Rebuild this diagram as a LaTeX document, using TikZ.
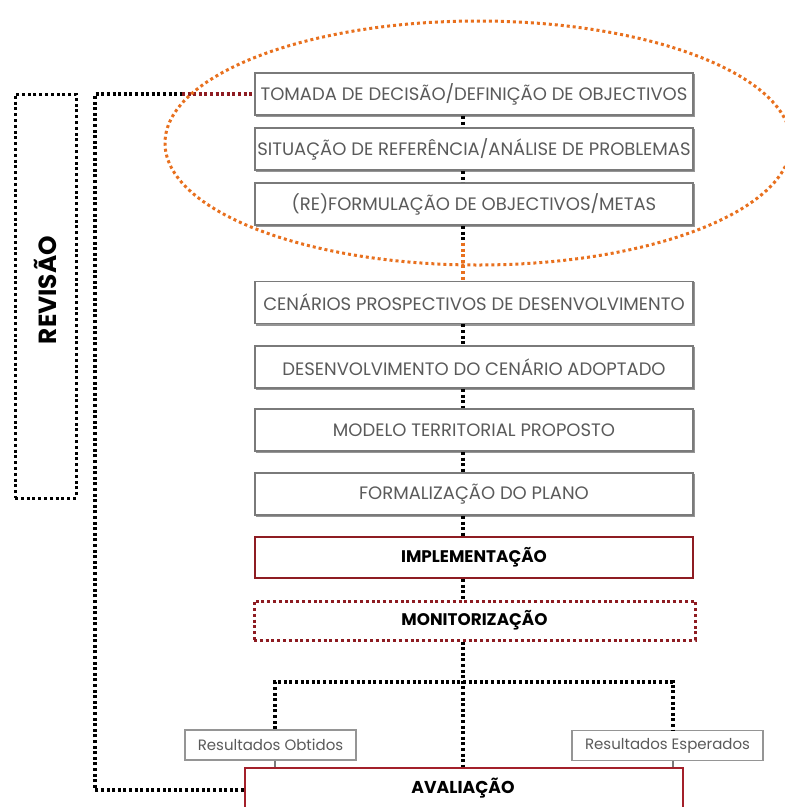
\documentclass[tikz,border=0pt]{standalone}
\usepackage{fontspec}
\setmainfont{Poppins}
\definecolor{boxgray}{HTML}{7A7A7A}
\definecolor{txtgray}{HTML}{5A5A5A}
\definecolor{maroon}{HTML}{8E1C22}
\definecolor{redline}{HTML}{A3202A}
\definecolor{orangedot}{HTML}{E8701E}
\begin{document}
\begin{tikzpicture}[x=1pt,y=-1pt,
  stepbox/.style={draw=boxgray, line width=1.8pt, fill=white,
    minimum width=438pt, minimum height=42pt, inner sep=0pt,
    font=\fontsize{18}{20}\selectfont, text=txtgray,
    preaction={draw=boxgray!80, line width=1.8pt,
      transform canvas={xshift=1.5pt,yshift=-1.5pt}}},
  keybox/.style={draw=maroon, line width=2.2pt, fill=white,
    minimum width=438pt, minimum height=41pt, inner sep=0pt,
    font=\bfseries\fontsize{16.8}{19}\selectfont, text=black},
  resbox/.style={draw=boxgray!80, line width=1.6pt, fill=white,
    minimum height=30pt, inner sep=0pt,
    font=\fontsize{15}{17}\selectfont, text=txtgray},
  conn/.style={line width=3.2pt, dash pattern=on 3pt off 2.6pt, black},
  dotframe/.style={line width=3pt, dash pattern=on 3pt off 2.8pt},
  thinconn/.style={line width=1.6pt, boxgray},
]
\useasboundingbox (0,0) rectangle (785,807);

% planning sequence
\node[stepbox] (b1) at (474,94)  {TOMADA DE DECISÃO/DEFINIÇÃO DE OBJECTIVOS};
\node[stepbox] (b2) at (474,149) {SITUAÇÃO DE REFERÊNCIA/ANÁLISE DE PROBLEMAS};
\node[stepbox] (b3) at (474,204) {(RE)FORMULAÇÃO DE OBJECTIVOS/METAS};
\node[stepbox] (b4) at (474,302.5) {CENÁRIOS PROSPECTIVOS DE DESENVOLVIMENTO};
\node[stepbox] (b5) at (474,367) {DESENVOLVIMENTO DO CENÁRIO ADOPTADO};
\node[stepbox] (b6) at (474,430) {MODELO TERRITORIAL PROPOSTO};
\node[stepbox] (b7) at (474,494) {FORMALIZAÇÃO DO PLANO};
\node[keybox]  (b8) at (474,557.5) {IMPLEMENTAÇÃO};
\node[keybox, draw=maroon, dotframe,
      minimum width=441pt, minimum height=39pt] (b9) at (474.5,620.5) {MONITORIZAÇÃO};

% results and evaluation
\node[resbox, minimum width=171pt] (obt) at (270.5,745) {Resultados Obtidos};
\node[resbox, minimum width=191pt] (esp) at (667.5,745.5) {Resultados Esperados};
\node[keybox, draw=redline, minimum width=438pt, minimum height=60pt] (aval) at (464,798) {};
\node[font=\bfseries\fontsize{17.2}{19}\selectfont] (avtxt) at (463,788) {AVALIAÇÃO};

% spine of the flow
\coordinate (spine) at (463,0);
\coordinate (ellcross) at (463,243);
\draw[conn] (b1.south -| spine) -- (b2.north -| spine);
\draw[conn] (b2.south -| spine) -- (b3.north -| spine);
\draw[conn] (b3.south -| spine) -- (ellcross);
\draw[conn, orangedot] (ellcross) -- (b4.north -| spine);
\draw[conn] (b4.south -| spine) -- (b5.north -| spine);
\draw[conn] (b5.south -| spine) -- (b6.north -| spine);
\draw[conn] (b6.south -| spine) -- (b7.north -| spine);
\draw[conn] (b7.south -| spine) -- (b8.north -| spine);
\draw[conn] (b8.south -| spine) -- (b9.north -| spine);
\draw[conn] (b9.south -| spine) -- (aval.north -| spine);

% branch to the two result boxes
\coordinate (tl) at (275,682);
\coordinate (tr) at (673,682);
\draw[conn] (obt.north -| tl) -- (tl) -- (tr) -- (esp.north -| tr);
\draw[thinconn] (obt.south -| tl) -- (aval.north -| tl);
\draw[thinconn] (esp.south -| tr) -- (aval.north -| tr);

% revision loop
\coordinate (rv1) at (95,790);
\coordinate (rv2) at (95,94);
\coordinate (rv3) at (182,94);
\draw[conn] (aval.west |- rv1) -- (rv1) -- (rv2) -- (rv3);
\draw[conn, maroon] (rv3) -- (b1.west);

\node[draw=black, dotframe,
      minimum width=61pt, minimum height=404pt, inner sep=0pt] (revbox) at (45.5,296) {};
\node[rotate=90, font=\bfseries\fontsize{24.8}{28}\selectfont] (revtxt) at (45,290) {REVISÃO};

% scope of the objectives phase
\draw[orangedot, line width=3pt, dash pattern=on 3pt off 3pt]
  (478,143) ellipse [x radius=313, y radius=122];
\end{tikzpicture}
\end{document}
